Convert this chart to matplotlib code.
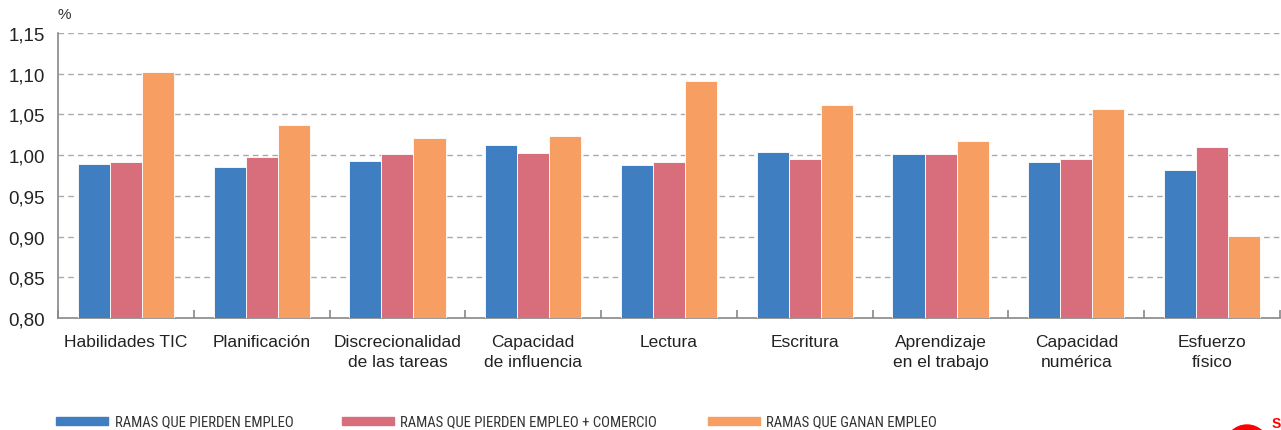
import matplotlib
matplotlib.use("Agg")
import matplotlib.pyplot as plt
from matplotlib.patches import Rectangle, Circle
from matplotlib import font_manager
import numpy as np

categories = ["Habilidades TIC", "Planificación", "Discrecionalidad\nde las tareas",
              "Capacidad\nde influencia", "Lectura", "Escritura",
              "Aprendizaje\nen el trabajo", "Capacidad\nnumérica", "Esfuerzo\nfísico"]
series_names = ["RAMAS QUE PIERDEN EMPLEO", "RAMAS QUE PIERDEN EMPLEO + COMERCIO",
                "RAMAS QUE GANAN EMPLEO"]
pierden = [0.989, 0.985, 0.993, 1.013, 0.988, 1.004, 1.001, 0.991, 0.982]
pierden_comercio = [0.992, 0.998, 1.001, 1.003, 0.992, 0.995, 1.001, 0.995, 1.010]
ganan = [1.102, 1.037, 1.021, 1.024, 1.091, 1.061, 1.017, 1.057, 0.901]
yticks = [0.80, 0.85, 0.90, 0.95, 1.00, 1.05, 1.10, 1.15]

colors = ["#3F7FC1", "#D86E7C", "#F79E63"]

plt.rcParams['font.family'] = ['Liberation Sans', 'DejaVu Sans']

names = {f.name for f in font_manager.fontManager.ttflist}
narrow = [n for n in ["Liberation Sans Narrow", "Roboto Condensed", "Open Sans Condensed",
                      "DejaVu Sans Condensed"] if n in names]
leg_family = narrow[0] if narrow else "Liberation Sans"

W, H = 1281, 431
fig = plt.figure(figsize=(W / 100, H / 100), dpi=100)
ax = fig.add_axes([58/W, 112/H, 1222/W, 285/H])

x = np.arange(len(categories))
w = 0.236
for i, (vals, c) in enumerate(zip([pierden, pierden_comercio, ganan], colors)):
    ax.bar(x + (i - 1) * w, np.array(vals) - 0.80, bottom=0.80, width=w, color=c,
           edgecolor="white", linewidth=0.6, zorder=3)

ax.set_xlim(-0.5, len(categories) - 0.5)
ax.set_ylim(0.80, 1.15)
ax.set_yticks(yticks)
ax.set_yticklabels([f"{v:.2f}".replace(".", ",") for v in yticks], fontsize=13.5, color="#222222")
ax.tick_params(axis='y', length=0, pad=9.5)
for v in yticks[1:]:
    ax.axhline(v, color="#AAAAAA", linestyle=(0, (4, 3)), linewidth=1.0, zorder=1)

ax.set_xticks(x)
ax.set_xticklabels(categories, fontsize=12.5, color="#222222", linespacing=1.38, va='top')
ax.tick_params(axis='x', length=0, pad=11.5)
ax.set_xticks(np.arange(-0.5, len(categories) + 0.5, 1), minor=True)
ax.tick_params(axis='x', which='minor', direction='in', length=6, color="#888888", width=1.2)

for s in ["top", "right"]:
    ax.spines[s].set_visible(False)
for s in ["left", "bottom"]:
    ax.spines[s].set_color("#888888")
    ax.spines[s].set_linewidth(1.2)

fig.text(57/W, 1 - 15/H, "%", fontsize=11, color="#333333", va='center', ha='left')

# legend (manual, positions in figure pixels)
patch_x = [56, 342, 708]
text_x = [115, 400, 766]
for px, tx, c, name in zip(patch_x, text_x, colors, series_names):
    fig.patches.append(Rectangle((px / W, 1 - 426 / H), 52 / W, 8 / H,
                                 transform=fig.transFigure, color=c))
    fig.text(tx / W, 1 - 426 / H, name, fontsize=10.6, family=leg_family,
             stretch='condensed', color="#333333", ha='left', va='baseline')

fig.patches.append(Circle((1247, -17), 22, transform=None, color="#FF0000", zorder=5))
fig.text(1280.5 / W, 1 - 428 / H, "S", fontsize=10, color="#FF0000", fontweight='bold',
         ha='right', va='baseline')

fig.savefig("out.png", dpi=100)
